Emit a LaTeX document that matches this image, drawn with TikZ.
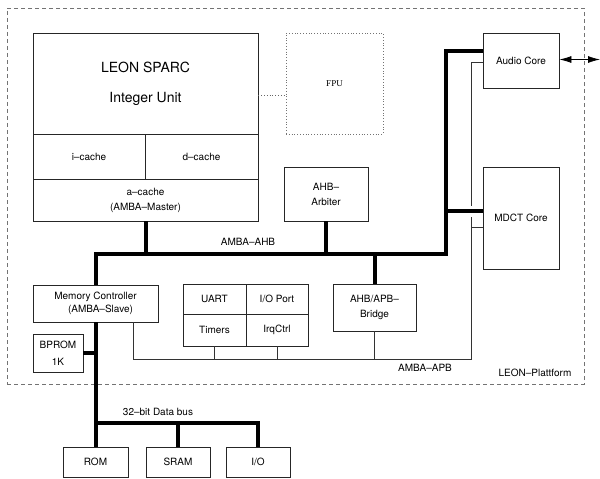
\documentclass[tikz,border=0pt]{standalone}
\usepackage{fontspec}
\setmainfont{TeX Gyre Heros}
\newfontfamily\fpufont{Liberation Serif}
\usetikzlibrary{arrows.meta,positioning,calc}

\begin{document}
\begin{tikzpicture}[x=1pt, y=-1pt,
      blk/.style={draw=black!85, line width=0.8pt, inner sep=0pt, align=center,
                  font=\fontsize{10}{15}\selectfont},
      lbl/.style={inner sep=0pt, font=\fontsize{10}{12}\selectfont},
      ahb/.style={line width=4pt, black},
      apb/.style={line width=0.8pt, black!80}]
      \useasboundingbox (0,0) rectangle (600,479);

      % LEON-Plattform frame
      \node[draw=black!55, line width=0.8pt, dash pattern=on 4pt off 3pt,
            minimum width=577pt, minimum height=376pt] (platform) at (295.5,196) {};
      \node[lbl] (platlbl) at (535,373) {LEON–Plattform};

      % LEON core: integer unit + caches
      \node[blk, minimum width=225pt, minimum height=101pt,
            font=\fontsize{14}{30}\selectfont] (iu) at (145.5,83.5)
            {LEON SPARC\\Integer Unit};
      \node[blk, minimum width=112pt, minimum height=45pt] (icache) at (89,156.5) {i–cache};
      \node[blk, minimum width=113pt, minimum height=45pt] (dcache) at (201.5,156.5) {d–cache};
      \node[blk, minimum width=225pt, minimum height=42pt] (acache) at (145.5,200)
            {a–cache\\(AMBA–Master)};

      % FPU (optional, dotted)
      \node[draw=black!55, line width=0.8pt, dotted, minimum width=97pt, minimum height=101pt,
            font=\fpufont\fontsize{9}{10}\selectfont] (fpu) at (334.5,83.5) {FPU};
      \draw[black!60, line width=0.8pt, dotted]
        ([yshift=-11.5pt]iu.east) -- ([yshift=-11.5pt]fpu.west);

      % AHB slaves / masters
      \node[blk, minimum width=84pt, minimum height=54pt] (arbiter) at (326,194) {AHB–\\Arbiter};
      \node[blk, minimum width=76pt, minimum height=55pt] (audio) at (521,60.5) {Audio Core};
      \node[blk, minimum width=76pt, minimum height=102pt] (mdct) at (521,218) {MDCT Core};
      \node[blk, minimum width=125pt, minimum height=37pt,
            font=\fontsize{10}{13}\selectfont] (memctrl) at (95.5,303.5)
            {Memory Controller\\\hspace*{10pt}(AMBA–Slave)};
      \node[blk, minimum width=50pt, minimum height=38pt,
            font=\fontsize{10}{17}\selectfont] (bprom) at (58,353) {BPROM\\1K};
      \node[blk, minimum width=83pt, minimum height=47pt] (bridge) at (374.5,307.5)
            {AHB/APB–\\Bridge};

      % APB peripherals
      \node[blk, minimum width=63pt, minimum height=30pt] (uart) at (214.5,299) {UART};
      \node[blk, minimum width=62pt, minimum height=30pt] (ioport) at (277,299) {I/O Port};
      \node[blk, minimum width=63pt, minimum height=32pt] (timers) at (214.5,330) {Timers};
      \node[blk, minimum width=62pt, minimum height=32pt] (irqctrl) at (277,330) {IrqCtrl};

      % external memory
      \node[blk, minimum width=65pt, minimum height=30pt] (rom) at (95.5,462) {ROM};
      \node[blk, minimum width=64pt, minimum height=30pt] (sram) at (178,462) {SRAM};
      \node[blk, minimum width=64pt, minimum height=30pt] (io) at (258,462) {I/O};

      % bus corner points
      \coordinate (ahbE) at (446,254);
      \coordinate (ahbTop) at (446,51);
      \coordinate (ahbM) at (446,211);
      \coordinate (apbE) at (471,359);
      \coordinate (apbTop) at (471,62);
      \coordinate (apbM) at (471,227);
      \coordinate (dbus) at (95.5,423);
      \coordinate (ext) at (600,59.5);

      % AMBA-AHB (thick)
      \draw[ahb] (memctrl.north) |- (ahbE) -- (ahbTop) -- (ahbTop -| audio.west);
      \draw[ahb] (ahbM) -- (ahbM -| mdct.west);
      \foreach \n in {acache,arbiter}
        \draw[ahb] (\n.south) -- (\n.south |- ahbE);
      \draw[ahb] (bridge.north) -- (bridge.north |- ahbE);
      \node[lbl] (ahblbl) at (248,242) {AMBA–AHB};

      % AMBA-APB (thin), broken where it crosses the AHB
      \draw[apb] ([xshift=-25pt]memctrl.south east) |- (apbE) -- (471,216.5);
      \draw[apb] (471,205.5) -- (apbTop) -- (apbTop -| audio.west);
      \draw[apb] (apbM) -- (apbM -| mdct.west);
      \foreach \n in {timers,irqctrl,bridge}
        \draw[apb] (\n.south) -- (\n.south |- apbE);
      \node[lbl] (apblbl) at (425,368) {AMBA–APB};

      % 32-bit data bus (thick)
      \draw[ahb] (memctrl.south) -- (rom.north);
      \draw[ahb] (dbus) -| (io.north);
      \draw[ahb] (sram.north) -- (sram.north |- dbus);
      \draw[ahb] (bprom.east) -- (bprom.east -| memctrl.south);
      \node[lbl] (dbuslbl) at (158,412) {32–bit Data bus};

      % audio I/O
      \draw[{Latex[length=12pt,width=7pt]}-{Latex[length=12pt,width=7pt]}, line width=0.8pt]
        (audio.east |- ext) -- (ext);
    \end{tikzpicture}
\end{document}
